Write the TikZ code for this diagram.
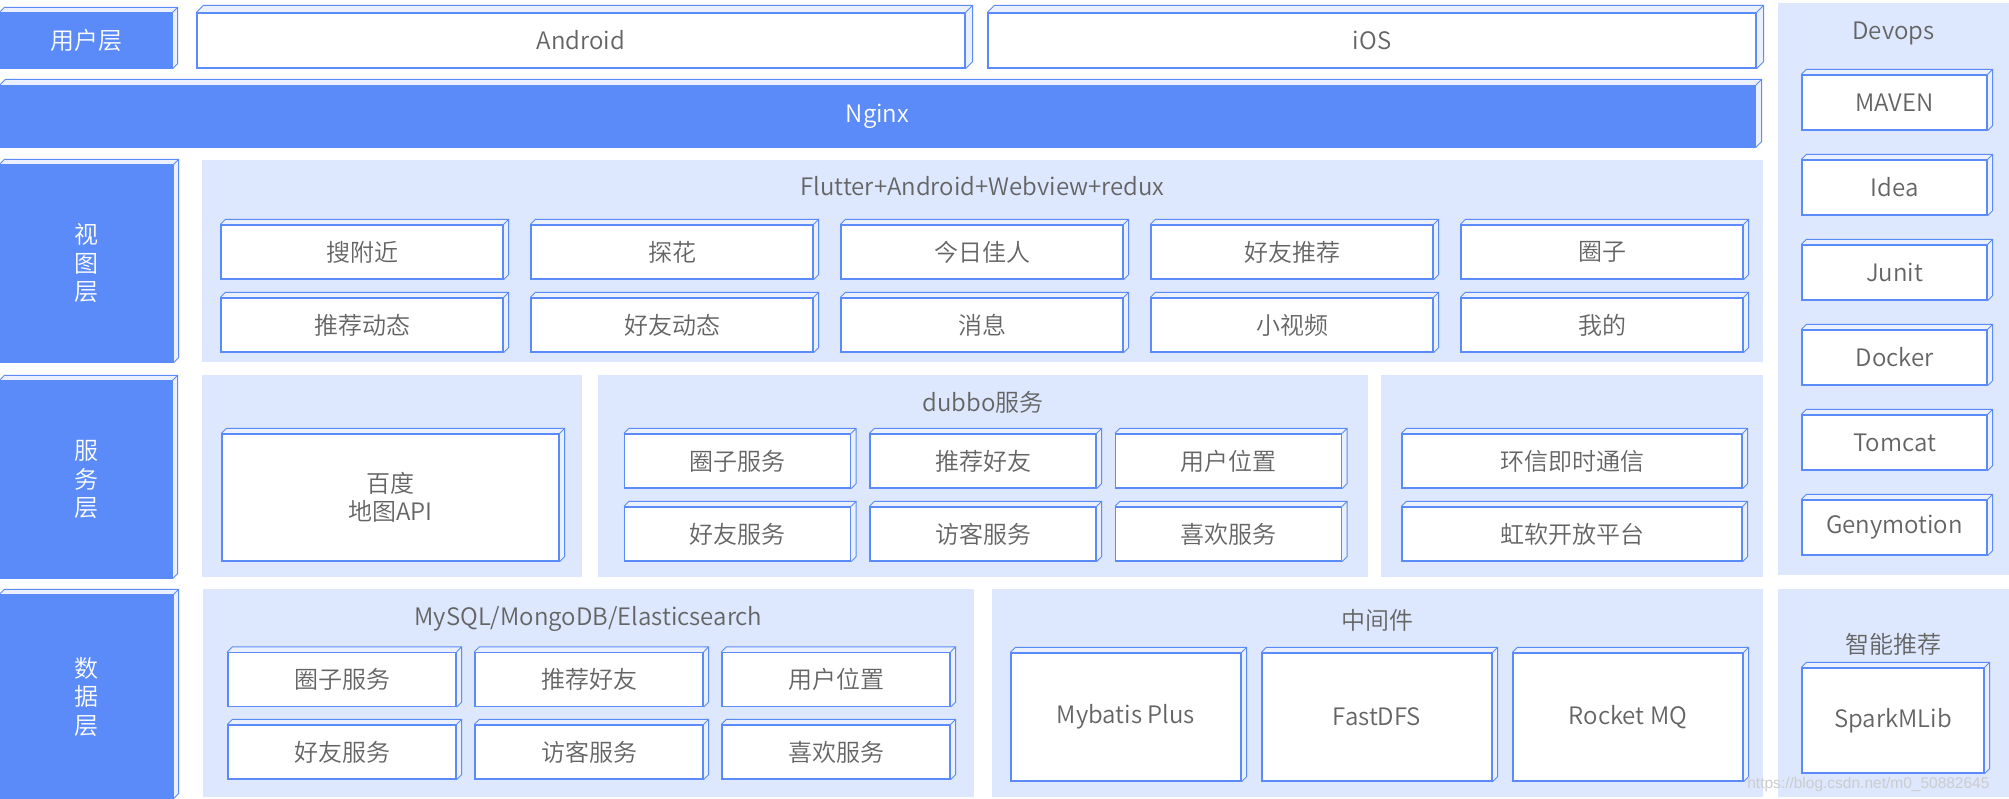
\documentclass[tikz,border=0pt]{standalone}
\usepackage{fontspec}
\setmainfont{Noto Sans CJK SC}[UprightFont={* DemiLight}]
\newfontfamily\markfont{Liberation Sans}
\usetikzlibrary{calc}
\definecolor{layerblue}{RGB}{91,139,248}
\definecolor{panelblue}{RGB}{221,231,253}
\definecolor{faceblue}{RGB}{234,240,254}
\definecolor{inkgray}{RGB}{100,100,100}

% top and right faces of a box
\newcommand{\cubefaces}[2]{%
  \fill[faceblue] (#1.north west) -- ++(#2,-#2) -| ($(#1.south east)+(#2,-#2)$) -- (#1.south east) -- (#1.north east) -- cycle;
  \draw[layerblue, line width=0.9] (#1.north west) -- ++(#2,-#2) -| ($(#1.south east)+(#2,-#2)$) -- (#1.south east) (#1.north east) -- ++(#2,-#2);
}

\tikzset{
  cube/.style={draw=layerblue, line width=1.3, fill=white, text=inkgray, inner sep=0pt,
    append after command={\pgfextra{\let\cubenode\tikzlastnode \cubefaces{\cubenode}{#1}}}},
  cube/.default=5,
  layer/.style={cube=#1, fill=layerblue, text=white, align=center},
  layer/.default=5,
  title/.style={text=inkgray}
}

\begin{document}
\begin{tikzpicture}[x=1pt, y=-1pt, font=\fontsize{24}{28.5}\selectfont]
\useasboundingbox (0,0) rectangle (2009,799);
\fill[white] (0,0) rectangle (2009,799);

% panels
\fill[panelblue] (202,160) rectangle (1763,362);
\fill[panelblue] (202,375) rectangle (582,577);
\fill[panelblue] (598,375) rectangle (1368,577);
\fill[panelblue] (1381,375) rectangle (1763,577);
\fill[panelblue] (203,589) rectangle (974,797);
\fill[panelblue] (992,589) rectangle (1763,797);
\fill[panelblue] (1778,589) rectangle (2009,797);
\fill[panelblue] (1778,3) rectangle (2009,575);

% user layer
\node[layer, minimum width=172, minimum height=55] (user) at (86,40.5) {用户层};
\node[cube=7, minimum width=768, minimum height=55] (android) at (581,40.5) {Android};
\node[cube=7, minimum width=768, minimum height=55] (ios) at (1372,40.5) {iOS};
\node[layer=6, minimum width=1755, minimum height=61] (nginx) at (877.5,116.5) {Nginx};

% view layer
\node[layer, minimum width=173, minimum height=197] (view) at (86.5,263.5) {视\\图\\层};
\node[title] (viewtitle) at (982.5,186) {Flutter+Android+Webview+redux};
\node[cube, minimum width=282, minimum height=54] (nearby) at (362,252) {搜附近};
\node[cube, minimum width=282, minimum height=54] (tanhua) at (672,252) {探花};
\node[cube, minimum width=282, minimum height=54] (today) at (982,252) {今日佳人};
\node[cube, minimum width=282, minimum height=54] (recfriend) at (1292,252) {好友推荐};
\node[cube, minimum width=282, minimum height=54] (circle) at (1602,252) {圈子};
\node[cube, minimum width=282, minimum height=54] (recfeed) at (362,325) {推荐动态};
\node[cube, minimum width=282, minimum height=54] (friendfeed) at (672,325) {好友动态};
\node[cube, minimum width=282, minimum height=54] (message) at (982,325) {消息};
\node[cube, minimum width=282, minimum height=54] (video) at (1292,325) {小视频};
\node[cube, minimum width=282, minimum height=54] (mine) at (1602,325) {我的};

% service layer
\node[layer, minimum width=172, minimum height=197] (service) at (86,479.5) {服\\务\\层};
\node[cube, minimum width=337, minimum height=127, align=center] (baidu) at (390.5,497.5) {百度\\地图API};
\node[title] (dubbotitle) at (983,402) {dubbo服务};
\node[cube, minimum width=226, minimum height=54] (scircle) at (737.5,461) {圈子服务};
\node[cube, minimum width=226, minimum height=54] (srecommend) at (983,461) {推荐好友};
\node[cube, minimum width=226, minimum height=54] (slocation) at (1228.5,461) {用户位置};
\node[cube, minimum width=226, minimum height=54] (sfriend) at (737.5,534) {好友服务};
\node[cube, minimum width=226, minimum height=54] (svisitor) at (983,534) {访客服务};
\node[cube, minimum width=226, minimum height=54] (slike) at (1228.5,534) {喜欢服务};
\node[cube, minimum width=340, minimum height=54] (huanxin) at (1572,461) {环信即时通信};
\node[cube, minimum width=340, minimum height=54] (arcsoft) at (1572,534) {虹软开放平台};

% data layer
\node[layer, minimum width=173, minimum height=203] (data) at (86.5,696.5) {数\\据\\层};
\node[title] (dbtitle) at (588.5,619) {MySQL/MongoDB/Elasticsearch};
\node[cube, minimum width=228, minimum height=54] (dcircle) at (342,679.5) {圈子服务};
\node[cube, minimum width=228, minimum height=54] (drecommend) at (589,679.5) {推荐好友};
\node[cube, minimum width=228, minimum height=54] (dlocation) at (836,679.5) {用户位置};
\node[cube, minimum width=228, minimum height=54] (dfriend) at (342,752) {好友服务};
\node[cube, minimum width=228, minimum height=54] (dvisitor) at (589,752) {访客服务};
\node[cube, minimum width=228, minimum height=54] (dlike) at (836,752) {喜欢服务};
\node[title] (mwtitle) at (1377.5,620) {中间件};
\node[cube, minimum width=230, minimum height=128] (mybatis) at (1126,717) {Mybatis Plus};
\node[cube, minimum width=230, minimum height=128] (fastdfs) at (1377,717) {FastDFS};
\node[cube, minimum width=230, minimum height=128] (rocketmq) at (1628,717) {Rocket MQ};
\node[title] (aititle) at (1893.5,644) {智能推荐};
\node[cube, minimum width=182, minimum height=105] (spark) at (1893,720.5) {SparkMLib};

% devops
\node[title] (devopstitle) at (1893.5,33) {Devops};
\node[cube, minimum width=185, minimum height=55] (maven) at (1894.5,102.5) {MAVEN};
\node[cube, minimum width=185, minimum height=55] (idea) at (1894.5,187.5) {Idea};
\node[cube, minimum width=185, minimum height=55] (junit) at (1894.5,272.5) {Junit};
\node[cube, minimum width=185, minimum height=55] (docker) at (1894.5,357.5) {Docker};
\node[cube, minimum width=185, minimum height=55] (tomcat) at (1894.5,442.5) {Tomcat};
\node[cube, minimum width=185, minimum height=55] (genymotion) at (1894.5,527.5) {Genymotion};

\node[anchor=base east, text=gray!40, font=\markfont\fontsize{15.5}{15.5}\selectfont] (mark) at (1993,788) {https://blog.csdn.net/m0\_50882645};
\end{tikzpicture}
\end{document}
